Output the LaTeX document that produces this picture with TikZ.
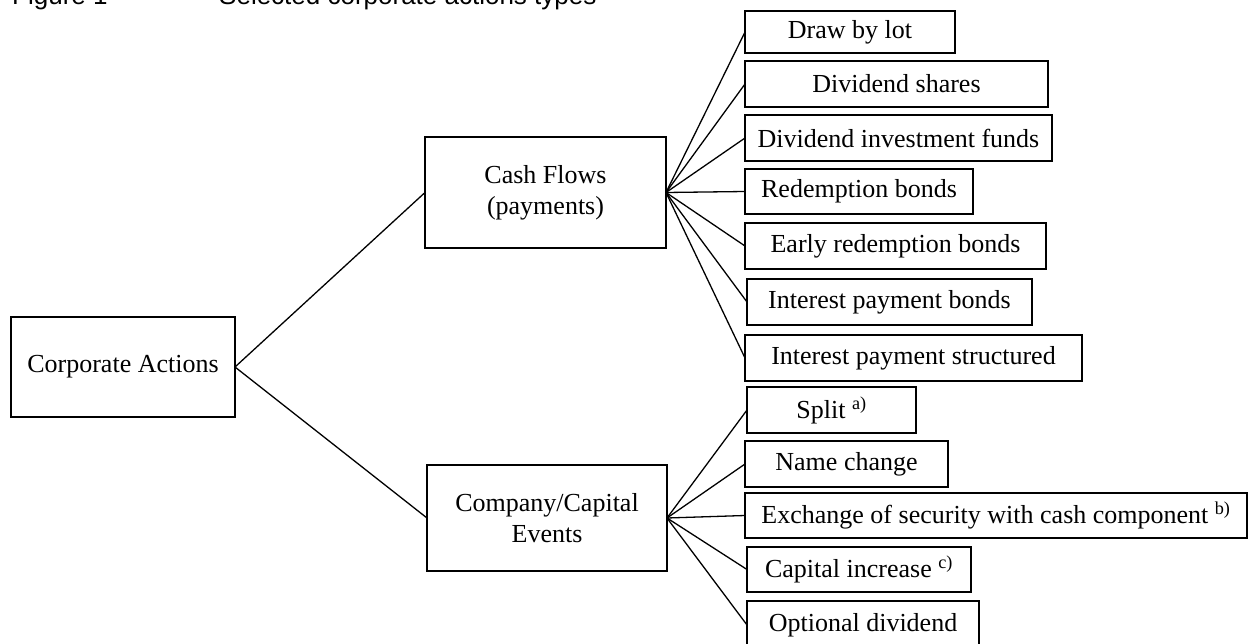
\documentclass[tikz,border=0pt]{standalone}
\usepackage{fontspec}
\setmainfont{Liberation Serif}
\newfontfamily\titlefont{Liberation Sans}
\begin{document}
\begin{tikzpicture}[x=1pt,y=-1pt,
  box/.style={draw=black, line width=1.4pt, inner sep=0pt, outer sep=0pt,
    align=center, font=\fontsize{26}{31}\selectfont},
  conn/.style={draw=black, line width=1.3pt},
  ttl/.style={anchor=base west, inner sep=0pt, font=\titlefont\fontsize{26}{31}\selectfont}]
\useasboundingbox (0,0) rectangle (1249,644);
\clip (0,0) rectangle (1249,644);
\fill[white] (0,0) rectangle (1249,644);
% title (cut at top edge)
\node[ttl] (t1) at (12,5) {Figure 1};
\node[ttl] (t2) at (219,5) {Selected corporate actions types};
% main boxes
\node[box, minimum width=224, minimum height=100] (root) at (123,367) {Corporate Actions};
\node[box, minimum width=241, minimum height=111] (cf) at (545.5,192.5) {Cash Flows\\(payments)};
\node[box, minimum width=240, minimum height=106] (ce) at (547,518) {Company/Capital\\Events};
% cash flow leaves
\node[box, minimum width=210, minimum height=42] (l1) at (850,32) {Draw by lot};
\node[box, minimum width=303, minimum height=46] (l2) at (896.5,84) {Dividend shares};
\node[box, minimum width=307, minimum height=46] (l3) at (898.5,138) {Dividend investment funds};
\node[box, minimum width=228, minimum height=45] (l4) at (859,191.5) {Redemption bonds};
\node[box, minimum width=301, minimum height=46] (l5) at (895.5,246) {Early redemption bonds};
\node[box, minimum width=285, minimum height=46] (l6) at (889.5,302) {Interest payment bonds};
\node[box, minimum width=337, minimum height=46] (l7) at (913.5,358) {Interest payment structured};
% company/capital event leaves
\node[box, minimum width=169, minimum height=46] (m1) at (831.5,410) {Split \textsuperscript{a)}};
\node[box, minimum width=203, minimum height=46] (m2) at (846.5,464) {Name change};
\node[box, minimum width=502, minimum height=45] (m3) at (996,515.5) {Exchange of security with cash component \textsuperscript{b)}};
\node[box, minimum width=224, minimum height=45] (m4) at (859,569.5) {Capital increase \textsuperscript{c)}};
\node[box, minimum width=232, minimum height=48] (m5) at (863,625) {Optional dividend};
% connectors
\draw[conn] (root.east) -- (cf.west);
\draw[conn] (root.east) -- (ce.west);
\foreach \n in {l1,l2,l3,l4,l5,l6,l7} \draw[conn] (cf.east) -- (\n.west);
\foreach \n in {m1,m2,m3,m4,m5} \draw[conn] (ce.east) -- (\n.west);
\end{tikzpicture}
\end{document}
